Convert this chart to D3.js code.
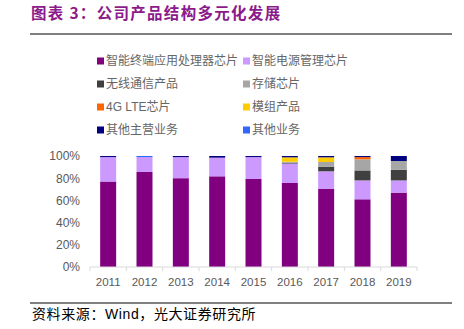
<!DOCTYPE html>
<html>
<head>
<meta charset="utf-8">
<script src="https://cdn.jsdelivr.net/npm/d3@7"></script>
<style>
  body { margin: 0; background: #fff; }
  svg { display: block; font-family: "Liberation Sans", Arial, "Noto Sans CJK SC", sans-serif; }
</style>
</head>
<body>
<svg id="chart" width="464" height="329"></svg>
<script>
const years = ["2011", "2012", "2013", "2014", "2015", "2016", "2017", "2018", "2019"];
const seriesNames = ["智能终端应用处理器芯片", "智能电源管理芯片", "无线通信产品", "存储芯片",
                     "4G LTE芯片", "模组产品", "其他主营业务", "其他业务"];
const seriesColors = ["#800080", "#cc99ff", "#404040", "#a6a6a6", "#ff6600", "#ffcc00", "#000080", "#3366ff"];

// share of revenue, %
const appProc   = [77, 85.6, 80, 81.7, 79.3, 75.7, 70.6, 61, 67];
const powerMgmt = [22, 13.4, 19, 16.8, 19.7, 17.5, 15.6, 17, 11];
const wireless  = [0, 0, 0, 0, 0, 0.8, 4.2, 9, 9.5];
const storage   = [0, 0, 0, 0, 0, 0.8, 4.2, 10, 8];
const lte4g     = [0, 0, 0, 0, 0, 0, 0, 2, 0];
const modules   = [0, 0, 0, 0, 0, 4, 4.2, 0, 0];
const otherMain = [1, 0, 1, 1.5, 1, 1.2, 1.2, 1, 4.5];
const otherBiz  = [0, 1, 0, 0, 0, 0, 0, 0, 0];
const yTicks = [0, 20, 40, 60, 80, 100];

const seriesValues = [appProc, powerMgmt, wireless, storage, lte4g, modules, otherMain, otherBiz];
const rows = years.map((yr, i) => {
    const r = {year: yr};
    seriesNames.forEach((n, k) => r[n] = seriesValues[k][i]);
    return r;
});

const svg = d3.select("#chart");

// title
svg.append("text")
    .attr("x", 31).attr("y", 19)
    .attr("fill", "#8b1a8b").attr("font-size", 15.5).attr("font-weight", "bold")
    .attr("font-family", "'Noto Sans CJK SC', sans-serif")
    .attr("letter-spacing", 1.3)
    .text("图表 3：公司产品结构多元化发展");
svg.append("line").attr("x1", 30).attr("x2", 452).attr("y1", 34).attr("y2", 34)
    .attr("stroke", "#000").attr("stroke-width", 1.2);

// legend
const legend = svg.append("g");
seriesNames.forEach((n, i) => {
    const col = i % 2, row = Math.floor(i / 2);
    const gx = col === 0 ? 97 : 243, gy = 61 + row * 23;
    legend.append("rect").attr("x", gx).attr("y", gy - 3.5).attr("width", 7).attr("height", 7)
        .attr("fill", seriesColors[i]);
    legend.append("text").attr("x", gx + 9).attr("y", gy).attr("dy", "0.36em")
        .attr("fill", "#666").attr("font-size", 12)
        .attr("font-family", "'Liberation Sans', 'Noto Sans CJK SC', sans-serif")
        .text(n);
});

// scales
const x = d3.scaleBand().domain(years).range([90, 417]).paddingInner(0.56).paddingOuter(0.28);
const y = d3.scaleLinear().domain([0, 100]).range([267, 156]);

const stacked = d3.stack().keys(seriesNames)(rows);

svg.append("g").selectAll("g").data(stacked).enter().append("g")
    .attr("fill", (d, i) => seriesColors[i])
    .selectAll("rect").data(d => d).enter().append("rect")
    .attr("x", d => x(d.data.year))
    .attr("width", x.bandwidth())
    .attr("y", d => y(d[1]))
    .attr("height", d => Math.max(0, y(d[0]) - y(d[1])));

// y axis labels
svg.append("g").selectAll("text").data(yTicks).enter().append("text")
    .attr("x", 80).attr("y", d => y(d)).attr("dy", "0.36em")
    .attr("text-anchor", "end").attr("fill", "#595959").attr("font-size", 12)
    .text(d => d + "%");

// x axis
const xAxis = svg.append("g");
xAxis.append("line").attr("x1", 90).attr("x2", 417).attr("y1", 267).attr("y2", 267)
    .attr("stroke", "#d9d9d9");
const bounds = years.map(yr => x(yr) - x.step() * x.paddingInner() / 2).concat([417]);
bounds[0] = 90;
xAxis.selectAll(".tk").data(bounds).enter().append("line")
    .attr("x1", d => d).attr("x2", d => d).attr("y1", 267).attr("y2", 271)
    .attr("stroke", "#d9d9d9");
xAxis.selectAll(".xl").data(years).enter().append("text")
    .attr("x", d => x(d) + x.bandwidth() / 2).attr("y", 282).attr("dy", "0.36em")
    .attr("text-anchor", "middle").attr("fill", "#595959").attr("font-size", 11.5)
    .text(d => d);

// source
svg.append("line").attr("x1", 30).attr("x2", 452).attr("y1", 303).attr("y2", 303)
    .attr("stroke", "#000").attr("stroke-width", 1);
svg.append("text").attr("x", 32).attr("y", 319)
    .attr("fill", "#000").attr("font-size", 14)
    .attr("font-family", "'Liberation Sans', 'Noto Sans CJK SC', sans-serif")
    .attr("letter-spacing", 0.6)
    .text("资料来源：Wind，光大证券研究所");
</script>
</body>
</html>
